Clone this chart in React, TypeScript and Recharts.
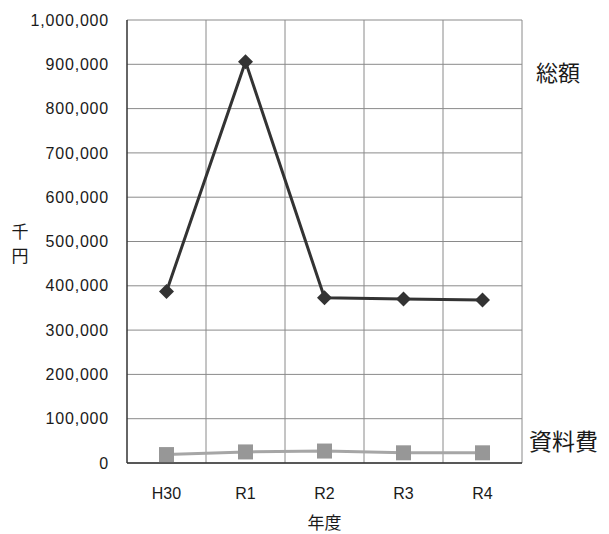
import { CartesianGrid, Label, Line, LineChart, ReferenceLine, XAxis, YAxis } from "recharts";

const categories = ["H30", "R1", "R2", "R3", "R4"];
const totalValues = [387000, 906000, 373000, 370000, 368000];
const materialValues = [19000, 25000, 27000, 23000, 23000];
const yTicks = [0, 100000, 200000, 300000, 400000, 500000, 600000, 700000, 800000, 900000, 1000000];
// boundaries between year columns (the first one is the y axis itself)
const bandEdges = [0.5, 1.5, 2.5, 3.5, 4.5];

const data = categories.map((name, i) => ({
    i,
    name,
    total: totalValues[i],
    material: materialValues[i],
}));

const FONT = '"Liberation Sans", Arial, "Noto Sans CJK JP", sans-serif';
const JP_FONT = '"Noto Sans CJK JP", sans-serif';
const TEXT = "#1a1a1a";

function Diamond({ cx, cy }: any) {
    if (cx == null || cy == null) return null;
    const r = 7.5;
    return (
        <polygon
            points={`${cx},${cy - r} ${cx + r},${cy} ${cx},${cy + r} ${cx - r},${cy}`}
            fill="#333333"
        />
    );
}

function Square({ cx, cy }: any) {
    if (cx == null || cy == null) return null;
    const s = 15;
    return <rect x={cx - s / 2} y={cy - s / 2} width={s} height={s} fill="#979797" />;
}

// vertical "千円" unit label beside the y axis
function UnitLabel({ viewBox }: any) {
    const x = (viewBox?.x ?? 0) + 20;
    const mid = (viewBox?.y ?? 0) + (viewBox?.height ?? 0) / 2;
    return (
        <g>
            <text x={x} y={mid - 4} textAnchor="middle" fontSize={17} fill={TEXT} stroke="none" fontFamily={JP_FONT}>
                千
            </text>
            <text x={x} y={mid + 20} textAnchor="middle" fontSize={17} fill={TEXT} stroke="none" fontFamily={JP_FONT}>
                円
            </text>
        </g>
    );
}

export default function App() {
    return (
        <div style={{ position: "absolute", left: 0, top: 0, width: 609, height: 534, background: "#fff" }}>
            <LineChart
                width={609}
                height={534}
                data={data}
                margin={{ top: 20, right: 87, bottom: 0, left: 0 }}
            >
                <CartesianGrid vertical={false} stroke="#8a8a8a" strokeWidth={1} />
                {bandEdges.map((x) => (
                    <ReferenceLine key={x} x={x} stroke="#8a8a8a" strokeWidth={1} />
                ))}
                <XAxis
                    dataKey="i"
                    type="number"
                    domain={[-0.5, 4.5]}
                    ticks={[0, 1, 2, 3, 4]}
                    tickFormatter={(v) => categories[v]}
                    height={71}
                    tickSize={0}
                    tickMargin={25}
                    axisLine={{ stroke: "#333", strokeWidth: 1.5 }}
                    tick={{ fill: TEXT, fontSize: 16, fontFamily: FONT }}
                >
                    <Label
                        value="年度"
                        position="insideBottom"
                        offset={5}
                        style={{ fill: TEXT, fontSize: 17, fontFamily: JP_FONT }}
                    />
                </XAxis>
                <YAxis
                    domain={[0, 1000000]}
                    ticks={yTicks}
                    width={127}
                    tickSize={0}
                    tickMargin={18}
                    interval={0}
                    tickFormatter={(v) => v.toLocaleString("en-US")}
                    axisLine={{ stroke: "#333", strokeWidth: 1.5 }}
                    tick={{ fill: TEXT, fontSize: 16, fontFamily: FONT, letterSpacing: 0.8 }}
                    label={<UnitLabel />}
                />
                <Line
                    dataKey="total"
                    stroke="#333333"
                    strokeWidth={3}
                    dot={<Diamond />}
                    activeDot={false}
                    isAnimationActive={false}
                />
                <Line
                    dataKey="material"
                    stroke="#a6a6a6"
                    strokeWidth={3}
                    dot={<Square />}
                    activeDot={false}
                    isAnimationActive={false}
                />
            </LineChart>
            <div style={{ position: "absolute", left: 536, top: 55, fontSize: 22, fontFamily: JP_FONT, color: TEXT }}>
                総額
            </div>
            <div style={{ position: "absolute", left: 529, top: 423, fontSize: 23, fontFamily: JP_FONT, color: TEXT }}>
                資料費
            </div>
        </div>
    );
}
